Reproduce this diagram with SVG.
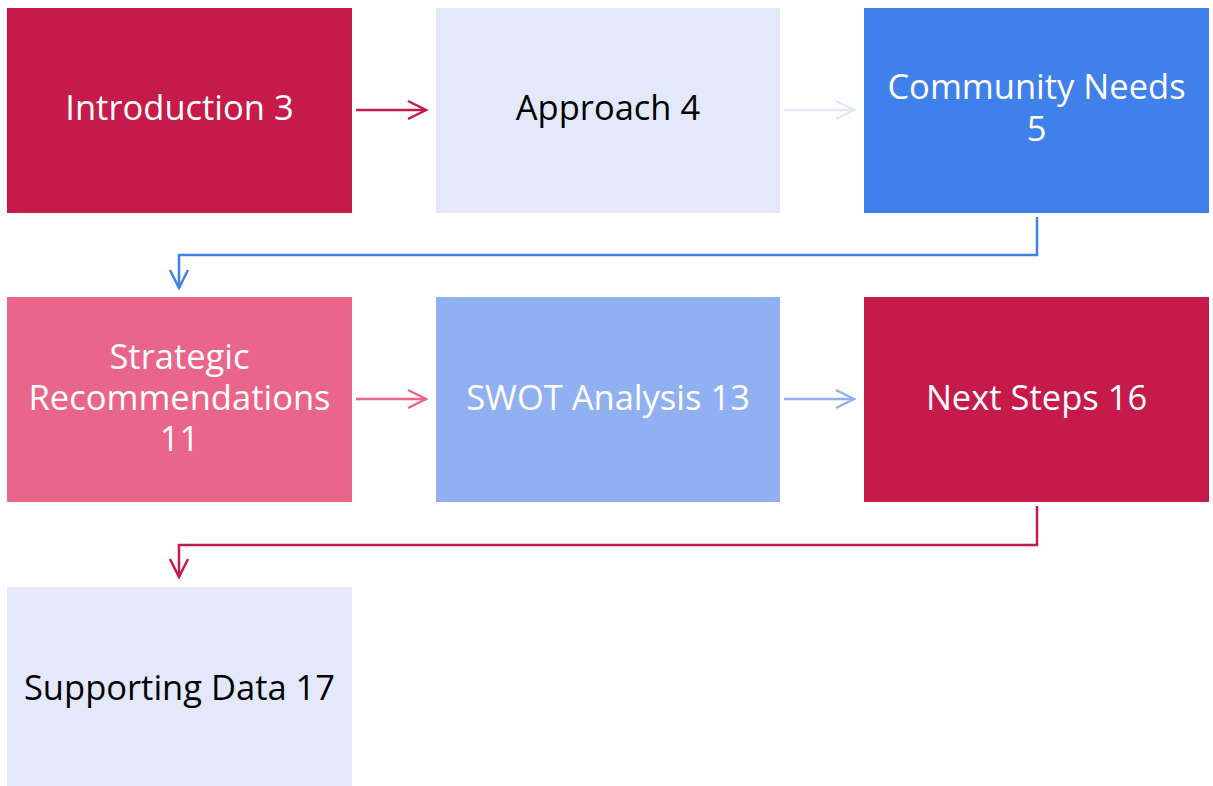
<svg xmlns="http://www.w3.org/2000/svg" width="1213" height="786" viewBox="0 0 1213 786">
  <defs>
    <style>
      .lbl { font-family: "Open Sans", "Liberation Sans", Arial, sans-serif; font-size: 34.5px; text-anchor: middle; }
      .light { fill: #ffffff; }
      .dark { fill: #000000; }
      .conn { fill: none; stroke-width: 2.5; stroke-linecap: butt; stroke-linejoin: miter; }
    </style>
  </defs>

  <rect width="1213" height="786" fill="#ffffff"/>

  <!-- row 1 -->
  <g id="introduction">
    <rect x="7" y="8" width="345" height="205" fill="#C51A4A"/>
    <text class="lbl light" x="179.5" y="120">Introduction 3</text>
  </g>
  <g id="approach">
    <rect x="436" y="8" width="344" height="205" fill="#E3E9FA"/>
    <text class="lbl dark" x="608" y="120">Approach 4</text>
  </g>
  <g id="community-needs">
    <rect x="864" y="8" width="345" height="205" fill="#4080EA"/>
    <text class="lbl light" x="1036.5" y="99">Community Needs<tspan x="1036.5" y="141">5</tspan></text>
  </g>

  <!-- row 2 -->
  <g id="strategic-recommendations">
    <rect x="7" y="297" width="345" height="205" fill="#E9668A"/>
    <text class="lbl light" x="179.5" y="369">Strategic<tspan x="179.5" y="410">Recommendations</tspan><tspan x="179.5" y="451">11</tspan></text>
  </g>
  <g id="swot-analysis">
    <rect x="436" y="297" width="344" height="205" fill="#91B0F2"/>
    <text class="lbl light" x="608" y="410">SWOT Analysis 13</text>
  </g>
  <g id="next-steps">
    <rect x="864" y="297" width="345" height="205" fill="#C51A4A"/>
    <text class="lbl light" x="1036.5" y="410">Next Steps 16</text>
  </g>

  <!-- row 3 -->
  <g id="supporting-data">
    <rect x="7" y="587" width="345" height="199" fill="#E3E9FA"/>
    <text class="lbl dark" x="179.5" y="700">Supporting Data 17</text>
  </g>

  <!-- connectors: shaft plus open chevron head -->
  <g id="connectors" class="conn">
    <line x1="356" y1="110" x2="426" y2="110" stroke="#C51A4A"/>
    <polyline points="408,101 426,110 408,119" stroke="#C51A4A"/>

    <line x1="784" y1="110" x2="854" y2="110" stroke="#E3E9FA"/>
    <polyline points="836,101 854,110 836,119" stroke="#E3E9FA"/>

    <polyline points="1037,217 1037,255 179,255 179,288" stroke="#4080EA"/>
    <polyline points="170,270 179,288 188,270" stroke="#4080EA"/>

    <line x1="356" y1="399" x2="426" y2="399" stroke="#E9668A"/>
    <polyline points="408,390 426,399 408,408" stroke="#E9668A"/>

    <line x1="784" y1="399" x2="854" y2="399" stroke="#91B0F2"/>
    <polyline points="836,390 854,399 836,408" stroke="#91B0F2"/>

    <polyline points="1037,506 1037,545 179,545 179,577" stroke="#C51A4A"/>
    <polyline points="170,559 179,577 188,559" stroke="#C51A4A"/>
  </g>
</svg>
